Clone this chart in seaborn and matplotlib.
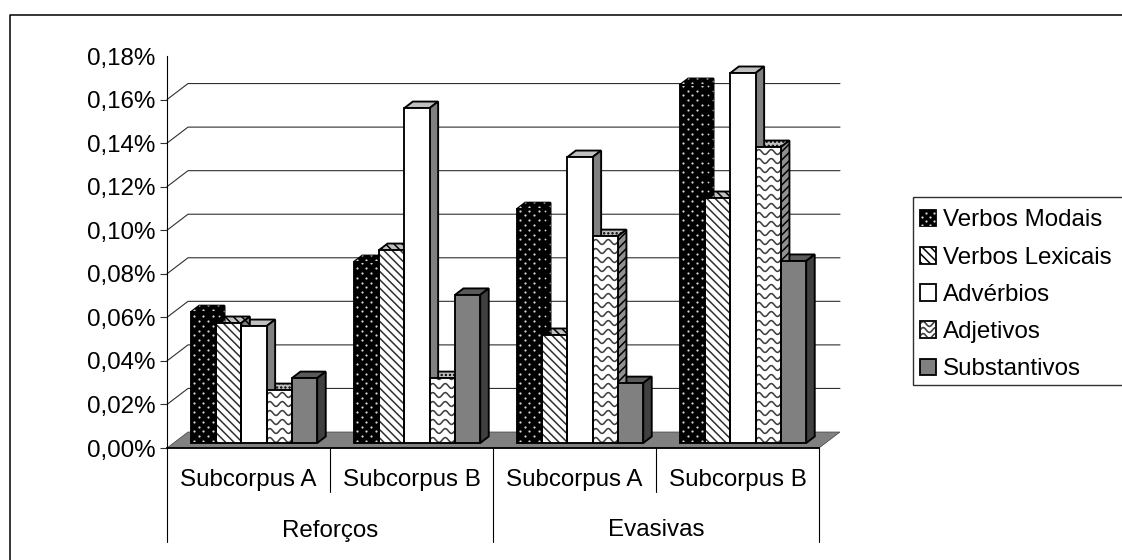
import numpy as np
import pandas as pd
import matplotlib
matplotlib.use("Agg")
import matplotlib.pyplot as plt
from matplotlib.lines import Line2D
from matplotlib.patches import Polygon, Rectangle, Patch
from matplotlib.transforms import Affine2D, IdentityTransform, Bbox
import seaborn as sns

# Share of each hedge class per subcorpus, in percent
grupos = ["Reforços", "Evasivas"]
subcorpora = ["Subcorpus A", "Subcorpus B", "Subcorpus A", "Subcorpus B"]
classes = ["Verbos Modais", "Verbos Lexicais", "Advérbios", "Adjetivos", "Substantivos"]
verbos_modais = [0.0601, 0.0831, 0.1074, 0.1644]
verbos_lexicais = [0.0551, 0.0886, 0.0496, 0.1125]
adverbios = [0.0537, 0.1538, 0.1313, 0.1699]
adjetivos = [0.0243, 0.0298, 0.0950, 0.1359]
substantivos = [0.0298, 0.0680, 0.0275, 0.0836]
ticks = [0.00, 0.02, 0.04, 0.06, 0.08, 0.10, 0.12, 0.14, 0.16, 0.18]

W, H = 1122, 560
DEPTH_BAR = (8.5, 6.5)
DEPTH_WALL = (21, 16)
SHIFT = (5.5, 5)
FONT = 17.4

sns.set_theme(style="white")
plt.rcParams["font.family"] = ["Liberation Sans", "DejaVu Sans"]
plt.rcParams["font.size"] = FONT
plt.rcParams["hatch.linewidth"] = 1.1
plt.rcParams["text.color"] = "black"

fig = plt.figure(figsize=(W / 100, H / 100), dpi=100, facecolor="white")
ax = fig.add_axes([167 / W, (H - 448) / H, (819 - 167) / W, (448 - 56) / H])
img = Affine2D().scale(1, -1).translate(0, H)  # top-down pixel coordinates
disp = IdentityTransform()

series = [verbos_modais, verbos_lexicais, adverbios, adjetivos, substantivos]
df = pd.DataFrame({
    "posicao": [i for _ in classes for i in range(4)],
    "classe": [c for c in classes for _ in range(4)],
    "valor": [v for s in series for v in s],
})
sns.barplot(data=df, x="posicao", y="valor", hue="classe", hue_order=classes,
            width=0.776, gap=0, saturation=1, legend=False, errorbar=None,
            palette=["black", "white", "white", "white", "#808080"], ax=ax)

ax.set_xlim(-0.5, 3.5)
ax.set_ylim(0, 0.18)
ax.set_yticks(ticks)
ax.set_yticklabels([f"{t:.2f}%".replace(".", ",") for t in ticks])
ax.set_xticks(range(4))
ax.set_xticklabels(subcorpora)
ax.set_xlabel("")
ax.set_ylabel("")
ax.tick_params(axis="x", length=0, pad=15, labelsize=FONT, labelcolor="black")
ax.tick_params(axis="y", length=5.2, width=0.8, color="#303030", pad=3, left=True,
               labelsize=FONT, labelcolor="black")
ax.yaxis.get_major_ticks()[-1].tick1line.set_visible(False)
for side in ("top", "right"):
    ax.spines[side].set_visible(False)
ax.spines["left"].set_linewidth(0.8)
ax.spines["left"].set_color("black")
ax.spines["bottom"].set_linewidth(1.3)
ax.spines["bottom"].set_color("black")
ax.patch.set_alpha(0)


def to_disp(x, y):
    return ax.transData.transform((x, y))


# Floor and back-wall gridlines
fx0, fy0 = to_disp(-0.5, 0)
fx1, _ = to_disp(3.5, 0)
dx, dy = DEPTH_WALL
ax.add_patch(Polygon([(fx0, fy0), (fx1, fy0), (fx1 + dx, fy0 + dy), (fx0 + dx, fy0 + dy)],
                     closed=True, facecolor="#808080", edgecolor="#404040", linewidth=0.5,
                     transform=disp, clip_on=False, zorder=1))
for t in ticks[1:-1]:
    _, y = to_disp(0, t)
    ax.add_line(Line2D([fx0, fx0 + dx, fx1 + dx], [y, y + dy, y + dy], color="#303030",
                       linewidth=0.8, transform=disp, clip_on=False, zorder=1.2))


def add_dots(x0, x1, y0, y1, clip=None, step=9.6, size=1.6, zorder=4.5, target=None):
    pts = []
    for r, y in enumerate(np.arange(y0 + 2, y1 + 5, step / 2)):
        pts += [(x, y) for x in np.arange(x0 + 3 + (r % 2) * step / 2, x1 + 5, step)]
    xs, ys = zip(*pts)
    line = Line2D(xs, ys, linestyle="", marker="o", markersize=size, markeredgewidth=0,
                  color="#d8d8d8", transform=disp, zorder=zorder)
    (target or ax).add_artist(line)
    if clip is not None:
        line.set_clip_path(clip)
    return line


def add_waves(x0, x1, y0, y1, clip=None, box=None, step=9.0, zorder=4.5, target=None, lw=1.15):
    xs = np.arange(x0 - 2, x1 + 3, 0.5)
    for y in np.arange(y0 + 3, y1 + 5, step):
        line = Line2D(xs, y + 2.4 * np.sin(2 * np.pi * (xs - x0) / 12.5), color="#404040",
                      linewidth=lw, transform=disp, zorder=zorder)
        (target or ax).add_artist(line)
        if clip is not None:
            line.set_clip_path(clip)
        if box is not None:
            line.set_clip_box(box)


front_shift = ax.transData + Affine2D().translate(*SHIFT)
top_styles = [("black", None), ("#c0c0c0", "\\\\\\\\"), ("#c0c0c0", None), ("#c0c0c0", "...."), ("#5a5a5a", None)]
side_styles = [("black", None), ("#808080", "\\\\\\\\"), ("#808080", None), ("#909090", "////"), ("#404040", None)]
front_hatch = [None, "\\\\\\\\", None, None, None]
bx, by = DEPTH_BAR

for k, container in enumerate(ax.containers):
    for patch in container:
        patch.set_transform(front_shift)
        patch.set_clip_on(False)
        patch.set_zorder(4)
        patch.set_linewidth(0)
        if front_hatch[k]:
            patch.set_hatch(front_hatch[k])
            patch.set_edgecolor("#303030")
        x, w, h = patch.get_x(), patch.get_width(), patch.get_height()
        (x0, y0), (x1, y1) = front_shift.transform([(x, 0), (x + w, h)])
        ax.add_patch(Rectangle((x, 0), w, h, fill=False, edgecolor="black", linewidth=1.35,
                               transform=front_shift, clip_on=False, zorder=5))
        top = Polygon([(x0, y1), (x1, y1), (x1 + bx, y1 + by), (x0 + bx, y1 + by)], closed=True,
                      facecolor=top_styles[k][0], hatch=top_styles[k][1], edgecolor="black",
                      linewidth=1.35, transform=disp, clip_on=False, zorder=2)
        side = Polygon([(x1, y0), (x1 + bx, y0 + by), (x1 + bx, y1 + by), (x1, y1)], closed=True,
                       facecolor=side_styles[k][0], hatch=side_styles[k][1], edgecolor="black",
                       linewidth=1.35, transform=disp, clip_on=False, zorder=3)
        ax.add_patch(top)
        ax.add_patch(side)
        if k == 0:
            add_dots(x0, x1, y0, y1, clip=patch)
            add_dots(x0, x1 + bx, y1, y1 + by, clip=top, zorder=2.5)
            add_dots(x1, x1 + bx, y0, y1 + by, clip=side, zorder=3.5, size=1.3)
        if k == 3:
            add_waves(x0, x1, y0, y1, clip=patch)

# Category dividers under the axis and the group labels
for xpos, bottom in zip([-0.5, 0.5, 1.5, 2.5, 3.5], [542, 492, 542, 492, 542]):
    px, _ = to_disp(xpos, 0)
    fig.add_artist(Line2D([px, px], [448, bottom], color="black", linewidth=0.8, transform=img))
for xc, label in zip([330, 656], grupos):
    fig.text(xc, 528, label, transform=img, ha="center", va="center_baseline", fontsize=FONT)

# Outer frame and legend box
fig.add_artist(Line2D([10, 10, W + 2], [H + 2, 14.5, 14.5], color="black", linewidth=1.1, transform=img))
fig.add_artist(Rectangle((912.5, 197), 240, 188, fill=False, edgecolor="#303030", linewidth=1.0,
                         transform=img, zorder=1))

handles = [
    Patch(facecolor="black", edgecolor="black", linewidth=1.3),
    Patch(facecolor="white", edgecolor="black", linewidth=1.3, hatch="\\\\\\\\"),
    Patch(facecolor="white", edgecolor="black", linewidth=1.3),
    Patch(facecolor="white", edgecolor="black", linewidth=1.3),
    Patch(facecolor="#808080", edgecolor="black", linewidth=1.3),
]
leg = ax.legend(handles, classes, loc="upper left", bbox_to_anchor=(920, 209.5), bbox_transform=img,
                frameon=False, borderpad=0, borderaxespad=0, handlelength=0.68, handleheight=0.68,
                handletextpad=0.26, labelspacing=0.63, fontsize=FONT)
fig.canvas.draw()
keys = leg.get_patches()
e = keys[0].get_window_extent()
add_dots(e.x0 - 1, e.x1, e.y0 - 1, e.y1, step=8, size=1.6, zorder=6, target=fig).set_clip_box(
    Bbox([[e.x0 + 1, e.y0 + 1], [e.x1 - 1, e.y1 - 1]]))
e = keys[3].get_window_extent()
add_waves(e.x0, e.x1, e.y0 - 1, e.y1, box=Bbox([[e.x0 + 1, e.y0 + 1], [e.x1 - 1, e.y1 - 1]]),
          step=6, zorder=6, target=fig, lw=1.2)

fig.savefig("out.png", dpi=100)
